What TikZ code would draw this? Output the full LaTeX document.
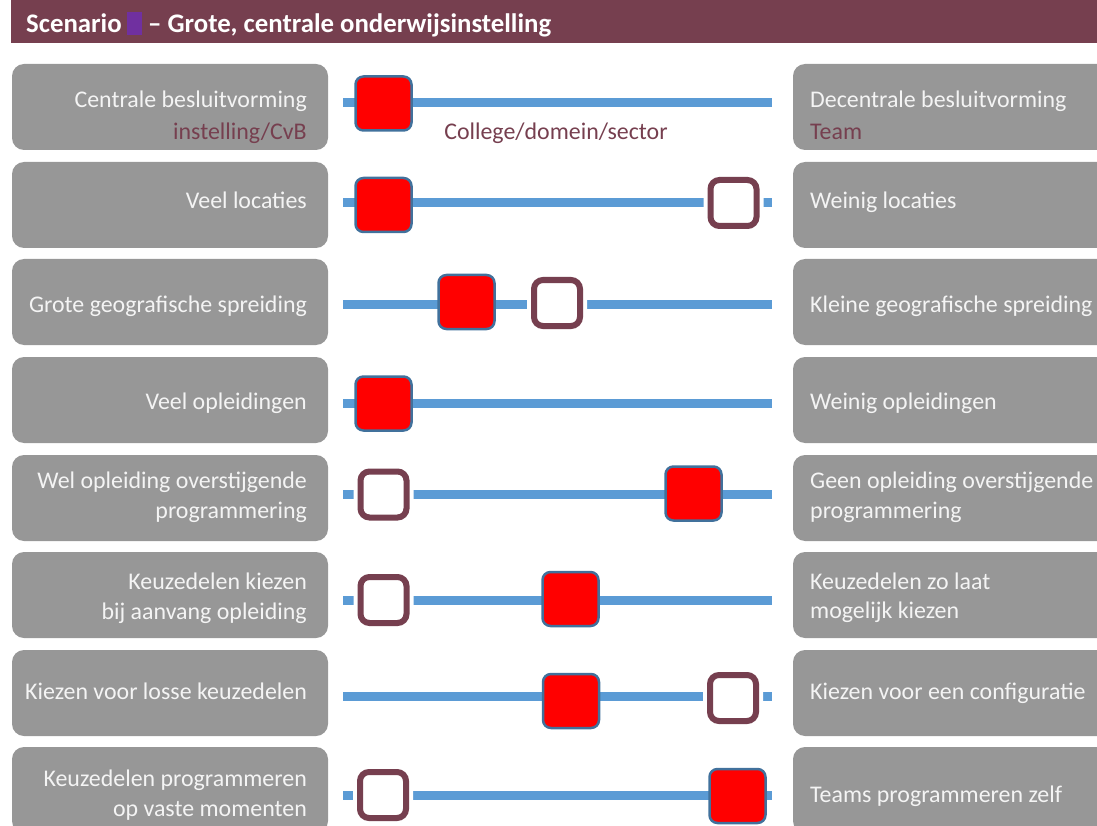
\documentclass[tikz,border=0pt]{standalone}
\usepackage{fontspec}
\setmainfont{Carlito}
\definecolor{wine}{HTML}{763F4F}
\definecolor{boxgray}{HTML}{979797}
\definecolor{slider}{HTML}{5B9BD5}
\definecolor{redborder}{HTML}{41719C}
\definecolor{purp}{HTML}{7030A0}
\definecolor{txt}{HTML}{F4F4F4}
\begin{document}
\begin{tikzpicture}[x=1pt,y=-1pt,
  box/.style={fill=boxgray, rounded corners=12pt, draw=none},
  bodyfont/.style={font=\fontsize{23.9}{30}\selectfont, inner sep=0pt},
  ltxt/.style={bodyfont, anchor=base east, text=txt},
  rtxt/.style={bodyfont, anchor=base west, text=txt},
  subl/.style={bodyfont, text=wine},
  titlefont/.style={anchor=base west, text=white, font=\fontsize{26.8}{30}\selectfont\bfseries, inner sep=0pt},
  track/.style={draw=slider, line width=9pt},
  current/.style={draw=redborder, fill=red, line width=2.5pt, rounded corners=8pt,
    minimum width=56pt, minimum height=54pt, inner sep=0pt},
  target/.style={draw=wine, fill=white, line width=6pt, rounded corners=9pt,
    minimum width=46pt, minimum height=46pt, inner sep=0pt,
    preaction={draw=white, line width=14pt}},
]
\useasboundingbox (0,0) rectangle (1097,826);
\clip (0,0) rectangle (1097,826);

% title bar
\fill[wine] (11,-2) rectangle (1110,43);
\node[titlefont] (title) at (26,33) {Scenario};
\fill[purp] (127,12) rectangle (142,35);
\node[titlefont] (title2) at (148,33) {-- Grote, centrale onderwijsinstelling};

% boxes
\foreach \t [count=\i] in {64,162,259,357,455,552,650,747}{
  \path[box] (12,\t) rectangle (328,\t+86);
  \path[box] (793,\t) rectangle (1115,\t+86);
}

% row 1
\node[ltxt] (l1) at (307,108) {Centrale besluitvorming};
\node[subl, anchor=base east] (l1s) at (307,140) {instelling/CvB};
\node[rtxt] (r1) at (810,108) {Decentrale besluitvorming};
\node[subl, anchor=base west] (r1s) at (810,140) {Team};
\node[subl, anchor=base] (m1s) at (556,140) {College/domein/sector};
% row 2
\node[ltxt] (l2) at (307,209) {Veel locaties};
\node[rtxt] (r2) at (810,209) {Weinig locaties};
% row 3
\node[ltxt] (l3) at (307,312) {Grote geografische spreiding};
\node[rtxt] (r3) at (810,312) {Kleine geografische spreiding};
% row 4
\node[ltxt] (l4) at (307,409) {Veel opleidingen};
\node[rtxt] (r4) at (810,409) {Weinig opleidingen};
% row 5
\node[ltxt] (l5a) at (307,488) {Wel opleiding overstijgende};
\node[ltxt] (l5b) at (307,518) {programmering};
\node[rtxt] (r5a) at (810,488) {Geen opleiding overstijgende};
\node[rtxt] (r5b) at (810,518) {programmering};
% row 6
\node[ltxt] (l6a) at (307,589) {Keuzedelen kiezen};
\node[ltxt] (l6b) at (307,619) {bij aanvang opleiding};
\node[rtxt] (r6a) at (810,589) {Keuzedelen zo laat};
\node[rtxt] (r6b) at (810,618) {mogelijk kiezen};
% row 7
\node[ltxt] (l7) at (307,699) {Kiezen voor losse keuzedelen};
\node[rtxt] (r7) at (810,699) {Kiezen voor een configuratie};
% row 8
\node[ltxt] (l8a) at (307,786) {Keuzedelen programmeren};
\node[ltxt] (l8b) at (307,816) {op vaste momenten};
\node[rtxt] (r8) at (810,802) {Teams programmeren zelf};

% tracks
\foreach \y [count=\i] in {103,203,304,403,494,600,696,795}{
  \coordinate (ts\i) at (343,\y);
  \coordinate (te\i) at (772,\y);
  \draw[track] (ts\i) -- (te\i);
}

% markers
\node[target] (o2) at (733.5,203) {};
\node[target] (o3) at (557,303) {};
\node[target] (o5) at (383.5,494.5) {};
\node[target] (o6) at (383.5,600) {};
\node[target] (o7) at (733,698) {};
\node[target] (o8) at (383,795) {};

\node[current] (c1) at (383.5,103.5) {};
\node[current] (c2) at (383.5,205) {};
\node[current] (c3) at (466.5,302) {};
\node[current] (c4) at (383.5,403.5) {};
\node[current] (c5) at (693.5,493.5) {};
\node[current] (c6) at (570.5,599) {};
\node[current] (c7) at (571,701) {};
\node[current] (c8) at (737.5,796) {};
\end{tikzpicture}
\end{document}
